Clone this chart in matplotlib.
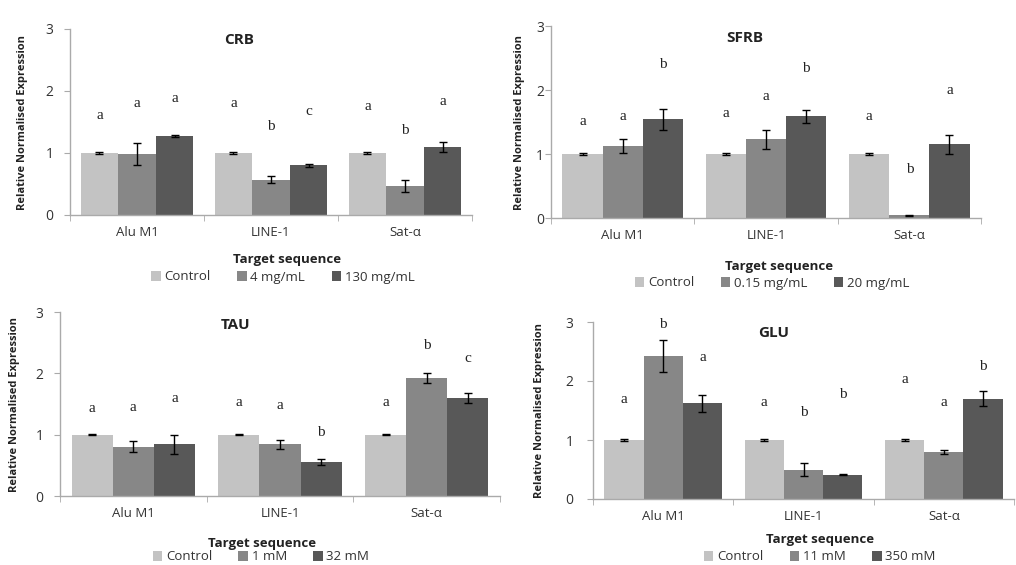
import matplotlib
matplotlib.use("Agg")
import matplotlib.pyplot as plt
from matplotlib.patches import Patch
import numpy as np

plt.rcParams['font.family'] = ['Open Sans', 'DejaVu Sans']

categories = ["Alu M1", "LINE-1", "Sat-α"]

titles = ["CRB", "SFRB", "TAU", "GLU"]
legend_labels = [
    ["Control", "4 mg/mL", "130 mg/mL"],
    ["Control", "0.15 mg/mL", "20 mg/mL"],
    ["Control", "1 mM", "32 mM"],
    ["Control", "11 mM", "350 mM"],
]

# values per panel: [control, dose1, dose2] each over categories
crb_vals = [[1.00, 1.00, 1.00], [0.98, 0.57, 0.47], [1.27, 0.80, 1.09]]
crb_errs = [[0.01, 0.01, 0.01], [0.18, 0.06, 0.10], [0.02, 0.02, 0.08]]
crb_letters = [["a", "a", "a"], ["a", "b", "b"], ["a", "c", "a"]]
crb_letter_y = [[1.61, 1.80, 1.75], [1.80, 1.42, 1.37], [1.88, 1.67, 1.83]]

sfrb_vals = [[1.00, 1.00, 1.00], [1.13, 1.23, 0.04], [1.54, 1.59, 1.15]]
sfrb_errs = [[0.01, 0.01, 0.01], [0.11, 0.15, 0.01], [0.16, 0.10, 0.15]]
sfrb_letters = [["a", "a", "a"], ["a", "a", "b"], ["b", "b", "a"]]
sfrb_letter_y = [[1.51, 1.63, 1.59], [1.58, 1.90, 0.76], [2.40, 2.34, 2.00]]

tau_vals = [[1.00, 1.00, 1.00], [0.80, 0.84, 1.93], [0.84, 0.55, 1.60]]
tau_errs = [[0.01, 0.01, 0.01], [0.09, 0.08, 0.08], [0.15, 0.05, 0.08]]
tau_letters = [["a", "a", "a"], ["a", "a", "b"], ["a", "b", "c"]]
tau_letter_y = [[1.42, 1.53, 1.53], [1.45, 1.48, 2.46], [1.59, 1.04, 2.24]]

glu_vals = [[1.00, 1.00, 1.00], [2.43, 0.50, 0.80], [1.62, 0.41, 1.70]]
glu_errs = [[0.01, 0.01, 0.01], [0.27, 0.11, 0.03], [0.14, 0.01, 0.13]]
glu_letters = [["a", "a", "a"], ["b", "b", "a"], ["a", "b", "b"]]
glu_letter_y = [[1.68, 1.64, 2.02], [2.95, 1.46, 1.64], [2.39, 1.77, 2.24]]

yticks = [0, 1, 2, 3]

panels = [
    (crb_vals, crb_errs, crb_letters, crb_letter_y),
    (sfrb_vals, sfrb_errs, sfrb_letters, sfrb_letter_y),
    (tau_vals, tau_errs, tau_letters, tau_letter_y),
    (glu_vals, glu_errs, glu_letters, glu_letter_y),
]

colors = ["#c3c3c3", "#878787", "#585858"]

W, H = 1016, 565
fig = plt.figure(figsize=(W / 100, H / 100), dpi=100)

# pixel boxes: left, right, top, bottom
boxes = [(70, 472, 29, 215), (551, 981, 26, 218), (60, 500, 312, 496), (593, 1014, 322, 499)]
title_pos = [(0.42, 0.94), (0.45, 0.94), (0.40, 0.93), (0.43, 0.94)]
ylabel_x = [-0.104, -0.06, -0.091, -0.114]
xlabel_pos = [(0.54, -0.205), (0.53, -0.22), (0.46, -0.225), (0.54, -0.19)]
ytick_pad = [8, 1, 8, 10]
legend_pos = [(283, 277), (772, 283), (261, 557), (820, 557)]

bw = 0.28
x = np.arange(len(categories))

for i, (vals, errs, lets, lety) in enumerate(panels):
    l, r, t, b = boxes[i]
    ax = fig.add_axes([l / W, 1 - b / H, (r - l) / W, (b - t) / H])
    for s in range(3):
        xs = x + (s - 1) * bw
        ax.bar(xs, vals[s], width=bw, color=colors[s], edgecolor="none", zorder=2)
        ax.errorbar(xs, vals[s], yerr=errs[s], fmt="none", ecolor="black",
                    elinewidth=1.0, capsize=3, capthick=1.0, zorder=3)
        for j in range(len(categories)):
            ax.text(xs[j], lety[s][j], lets[s][j], ha="center", va="center",
                    fontsize=11, family="Liberation Serif", color="#222222")
    ax.set_xlim(-0.5, 2.5)
    ax.set_ylim(0, 3)
    ax.set_yticks(yticks)
    ax.set_xticks(x)
    ax.set_xticklabels(categories, fontsize=9.5, color="#333333")
    ax.set_xticks([-0.5, 0.5, 1.5, 2.5], minor=True)
    ax.tick_params(axis="x", which="major", length=0, pad=8)
    ax.tick_params(axis="x", which="minor", length=4, color="#aaaaaa", direction="out")
    ax.tick_params(axis="y", length=4, color="#aaaaaa", labelsize=10, labelcolor="#333333",
                   pad=ytick_pad[i])
    for sp in ["top", "right"]:
        ax.spines[sp].set_visible(False)
    for sp in ["left", "bottom"]:
        ax.spines[sp].set_color("#aaaaaa")
        ax.spines[sp].set_linewidth(1.0)
    ax.set_ylabel("Relative Normalised Expression", fontsize=8, fontweight="bold",
                  color="#222222")
    ax.yaxis.set_label_coords(ylabel_x[i], 0.5)
    ax.set_xlabel("Target sequence", fontsize=9.5, fontweight="bold", color="#222222")
    ax.xaxis.set_label_coords(*xlabel_pos[i])
    ax.text(title_pos[i][0], title_pos[i][1], titles[i], transform=ax.transAxes,
            ha="center", va="center", fontsize=11, fontweight="bold", color="#222222")
    ax.set_facecolor("none")

    handles = [Patch(facecolor=c, edgecolor="none") for c in colors]
    lx, ly = legend_pos[i]
    fig.legend(handles, legend_labels[i], loc="center", bbox_to_anchor=(lx / W, 1 - ly / H),
               ncol=3, frameon=False, fontsize=9.5, handlelength=0.7, handleheight=0.7,
               handletextpad=0.3, columnspacing=2.0, labelcolor="#333333")

fig.savefig("out.png", dpi=100, facecolor="white")
